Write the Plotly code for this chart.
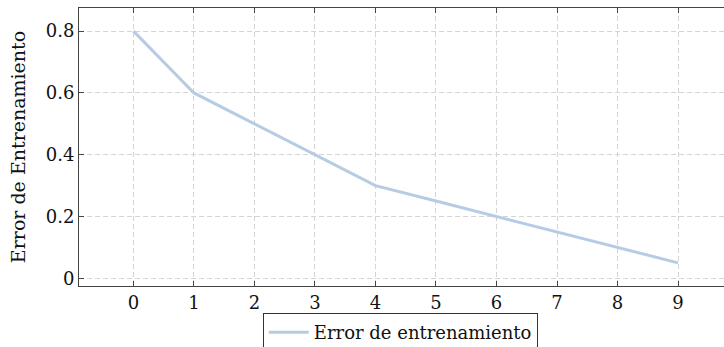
import plotly.graph_objects as go

epochs = [0, 1, 2, 3, 4, 5, 6, 7, 8, 9]
train_error = [0.8, 0.6, 0.5, 0.4, 0.3, 0.25, 0.2, 0.15, 0.1, 0.05]
x_ticks = [0, 1, 2, 3, 4, 5, 6, 7, 8, 9]
y_ticks = [0, 0.2, 0.4, 0.6, 0.8]
y_tick_labels = ["0", "0.2", "0.4", "0.6", "0.8"]

FONT = "DejaVu Serif"
FS = 18

fig = go.Figure()
fig.add_trace(go.Scatter(
    x=epochs, y=train_error, mode="lines",
    name="Error de entrenamiento",
    line=dict(color="#b6cce4", width=3),
))

fig.update_layout(
    width=724, height=347,
    margin=dict(l=79, r=0, t=8, b=61, autoexpand=False),
    paper_bgcolor="white", plot_bgcolor="white",
    font=dict(family=FONT, size=FS, color="#111"),
    showlegend=True,
    legend=dict(
        orientation="h", x=0.285, xanchor="left", y=-0.097, yanchor="top",
        bordercolor="#333", borderwidth=1, bgcolor="white",
        font=dict(family=FONT, size=FS, color="#111"),
        itemwidth=40,
    ),
)

fig.update_xaxes(
    range=[-0.9, 9.76], tickvals=x_ticks, ticktext=[str(v) for v in x_ticks],
    ticks="inside", ticklen=5, tickcolor="#444", tickwidth=1,
    showline=True, linecolor="#444", linewidth=1, mirror="ticks",
    showgrid=True, gridcolor="#d4d4d4", griddash="5px,3px", gridwidth=1,
    zeroline=False, tickfont=dict(size=FS), automargin=False,
)
fig.update_yaxes(
    range=[-0.025, 0.875], tickvals=y_ticks, ticktext=y_tick_labels,
    ticks="inside", ticklen=5, tickcolor="#444", tickwidth=1,
    showline=True, linecolor="#444", linewidth=1, mirror=False,
    showgrid=True, gridcolor="#d4d4d4", griddash="5px,3px", gridwidth=1,
    zeroline=False, tickfont=dict(size=FS), automargin=False,
    title=dict(text="Error de Entrenamiento", font=dict(size=19), standoff=15),
)

fig.write_html(
    "out.html",
    config={"displayModeBar": False},
    post_script=(
        "document.body.style.margin='0';"
        "document.documentElement.style.overflow='hidden';"
        "document.body.style.overflow='hidden';"
    ),
)
